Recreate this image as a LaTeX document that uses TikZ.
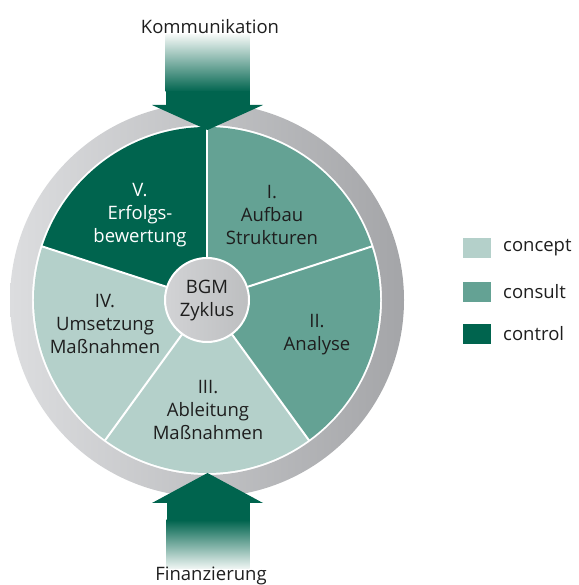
\documentclass[tikz,border=0pt]{standalone}
\usepackage{fontspec}
\setmainfont{Open Sans}
\definecolor{ctrl}{HTML}{00644E}
\definecolor{cons}{HTML}{64A294}
\definecolor{conc}{HTML}{B4D0CA}
\definecolor{ringl}{HTML}{DCDDDF}
\definecolor{ringr}{HTML}{A4A5A8}
\definecolor{hubl}{HTML}{D2D3D5}
\definecolor{hubr}{HTML}{BDBEC0}
\definecolor{txt}{HTML}{1E1E1E}
\definecolor{fade}{HTML}{F2F7F5}
\begin{document}
\begin{tikzpicture}[x=1pt,y=1pt,
  lbl/.style={align=center,font=\fontsize{18.5}{23}\selectfont,text=txt,inner sep=0pt},
  legbox/.style={minimum width=28pt,minimum height=20pt,inner sep=0pt},
  legtxt/.style={anchor=west,font=\fontsize{18.5}{20}\selectfont,text=txt,inner sep=0pt},
  divider/.style={white,line width=2pt}]
\useasboundingbox (0,0) rectangle (578,585);
\coordinate (c) at (207,285);
% outer ring
\shade[left color=ringl,right color=ringr,even odd rule] (c) circle[radius=197pt] (c) circle[radius=175pt];
% wedges
\fill[cons] (c) -- ++(18:173pt) arc[start angle=18,end angle=90,radius=173pt] -- cycle;
\fill[cons] (c) -- ++(-54:173pt) arc[start angle=-54,end angle=18,radius=173pt] -- cycle;
\fill[conc] (c) -- ++(-126:173pt) arc[start angle=-126,end angle=-54,radius=173pt] -- cycle;
\fill[conc] (c) -- ++(162:173pt) arc[start angle=162,end angle=234,radius=173pt] -- cycle;
\fill[ctrl] (c) -- ++(90:173pt) arc[start angle=90,end angle=162,radius=173pt] -- cycle;
\foreach \a in {90,18,-54,-126,162} \draw[divider] (c) -- ++(\a:174pt);
% hub
\shade[left color=hubl,right color=hubr] (c) circle[radius=42pt];
\draw[white,line width=2pt] (c) circle[radius=42pt];
\node[lbl] (hub) at (207,284) {BGM\\Zyklus};
% segment labels
\node[lbl] (s1) at (272,370) {I.\\Aufbau\\Strukturen};
\node[lbl] (s2) at (317,250) {II.\\Analyse};
\node[lbl] (s3) at (208,175) {III.\\Ableitung\\Maßnahmen};
\node[lbl] (s4) at (105,261) {IV.\\Umsetzung\\Maßnahmen};
\node[lbl,text=white] (s5) at (140,370) {V.\\Erfolgs-\\bewertung};
% top arrow
\shade[top color=fade,bottom color=ctrl] (165.5,550) rectangle (249.5,493);
\fill[ctrl] (165.5,493.5) rectangle (249.5,479);
\fill[ctrl] (152,480) -- (263,480) -- (207.5,455) -- cycle;
% bottom arrow
\shade[top color=ctrl,bottom color=fade] (166.5,65) rectangle (249.5,16);
\fill[ctrl] (166.5,64.5) rectangle (249.5,83);
\fill[ctrl] (152,82) -- (263,82) -- (207.5,112) -- cycle;
\node[lbl] (komm) at (210,558) {Kommunikation};
\node[lbl] (fin) at (211,9) {Finanzierung};
% legend
\node[legbox,fill=conc] (l1) at (477,337) {};
\node[legbox,fill=cons] (l2) at (477,293) {};
\node[legbox,fill=ctrl] (l3) at (477,251) {};
\node[legtxt] (t1) at (503,337) {concept};
\node[legtxt] (t2) at (503,293) {consult};
\node[legtxt] (t3) at (503,251) {control};
\end{tikzpicture}
\end{document}
